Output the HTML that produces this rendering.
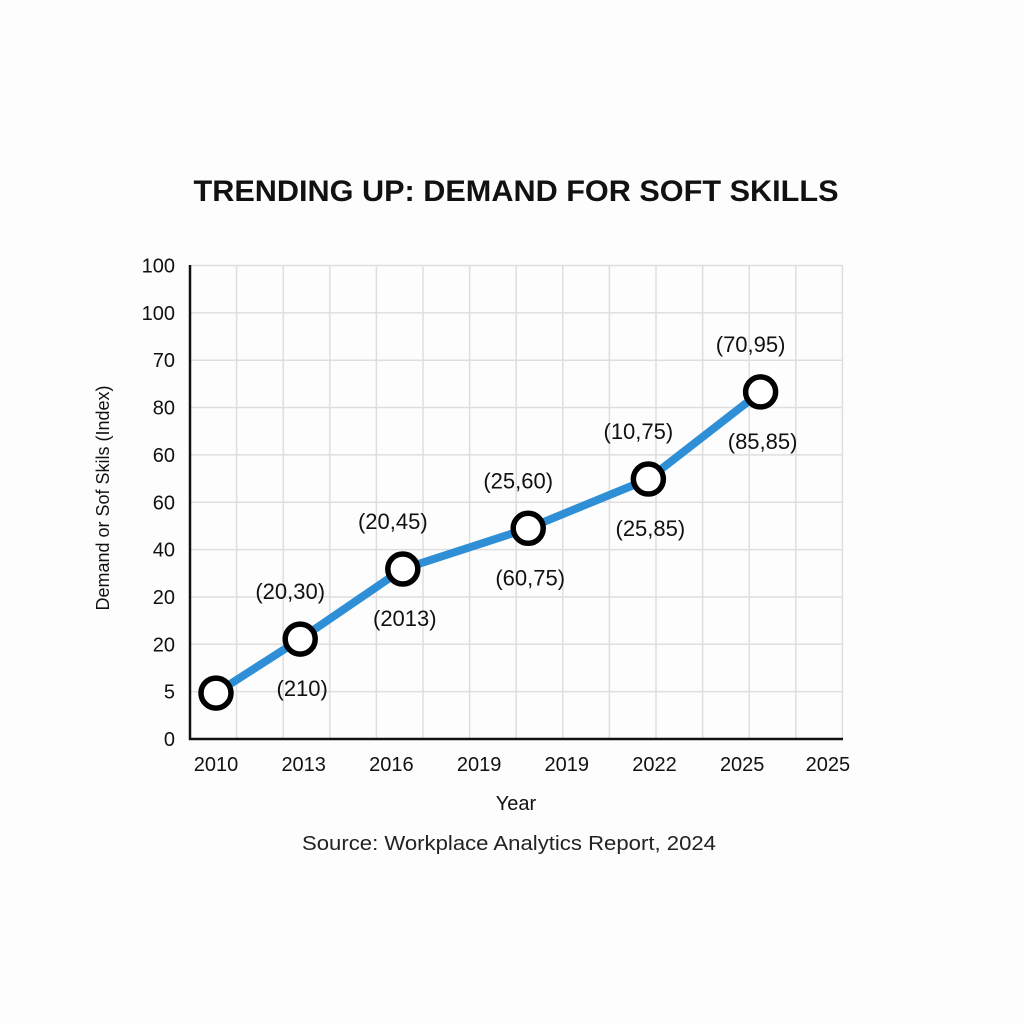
<!DOCTYPE html>
<html><head><meta charset="utf-8"><style>
html,body{margin:0;padding:0;background:#fff}
svg{display:block;font-family:"Liberation Sans",sans-serif}
</style></head><body>
<svg id="chart" width="1024" height="1024" viewBox="0 0 1024 1024">
<rect width="1024" height="1024" fill="#fdfdfd"/>
<text x="516" y="201" text-anchor="middle" font-size="30" font-weight="bold" fill="#111" textLength="645" lengthAdjust="spacingAndGlyphs">TRENDING UP: DEMAND FOR SOFT SKILLS</text>
<g id="grid"></g>
<g id="axes"></g>
<g id="series"></g>
<text x="516" y="810" text-anchor="middle" font-size="20" fill="#111">Year</text>
<text transform="translate(109,498) rotate(-90)" text-anchor="middle" font-size="18" fill="#111">Demand or Sof Skils (Index)</text>
<text x="509" y="850" text-anchor="middle" font-size="20" fill="#222" textLength="414" lengthAdjust="spacingAndGlyphs">Source: Workplace Analytics Report, 2024</text>
</svg>
<script>
const xTickLabels = ["2010","2013","2016","2019","2019","2022","2025","2025"];
const yTickLabels = ["0","5","20","20","40","60","60","80","70","100","100"];
const pointX = [0, 0.96, 2.13, 3.56, 4.93, 6.21];
const pointY = [0.97, 2.11, 3.59, 4.45, 5.49, 7.33];
const labelsAbove = ["", "(20,30)", "(20,45)", "(25,60)", "(10,75)", "(70,95)"];
const labelsBelow = ["", "(210)", "(2013)", "(60,75)", "(25,85)", "(85,85)"];

const NS = "http://www.w3.org/2000/svg";
function xs(i){ return 216 + i*87.7; }
function ys(k){ return 739 - k*47.35; }
function mk(tag, attrs, parent){ const e=document.createElementNS(NS,tag); for(const k in attrs) e.setAttribute(k,attrs[k]); parent.appendChild(e); return e; }
const grid=document.getElementById('grid'), axes=document.getElementById('axes'), series=document.getElementById('series');
for(let i=1;i<=14;i++){
  const x=190+i*46.6;
  const l=mk('line',{x1:x,x2:x,y1:265,y2:739,stroke:'#dedede','stroke-width':1.5},grid);
  
  
}
for(let k=0;k<yTickLabels.length;k++){
  const y=ys(k);
  if(k>0){
    const l=mk('line',{x1:190,x2:842,y1:y,y2:y,stroke:'#dedede','stroke-width':1.5},grid);
    
    
  }
  const t=mk('text',{x:175,y:y+7,'text-anchor':'end','font-size':20,fill:'#111'},axes);
  t.textContent=yTickLabels[k];
  
  
}
for(let i=0;i<xTickLabels.length;i++){
  const t=mk('text',{x:xs(i)+(i===7?-2:0),y:771,'text-anchor':'middle','font-size':20,fill:'#111'},axes);
  t.textContent=xTickLabels[i];
  
  
}
const ya=mk('line',{x1:190,x2:190,y1:265,y2:740,stroke:'#111','stroke-width':2.5},axes);


const xa=mk('line',{x1:189,x2:843,y1:739,y2:739,stroke:'#111','stroke-width':2.5},axes);


const pts=pointX.map((v,i)=>xs(v)+','+ys(pointY[i])).join(' ');
const pl=mk('polyline',{points:pts,fill:'none',stroke:'#2e8fd6','stroke-width':8,'stroke-linejoin':'round'},series);


for(let i=0;i<pointX.length;i++){
  const cx=xs(pointX[i]), cy=ys(pointY[i]);
  const c=mk('circle',{cx:cx,cy:cy,r:15,fill:'#fff',stroke:'#000','stroke-width':5.5},series);
  
  
  if(labelsAbove[i]){
    const t=mk('text',{x:cx-10,y:cy-40,'text-anchor':'middle','font-size':22,fill:'#111'},series);
    t.textContent=labelsAbove[i];
    
    
  }
  if(labelsBelow[i]){
    const t=mk('text',{x:cx+2,y:cy+57,'text-anchor':'middle','font-size':22,fill:'#111'},series);
    t.textContent=labelsBelow[i];
    
    
  }
}
</script>
</body></html>
